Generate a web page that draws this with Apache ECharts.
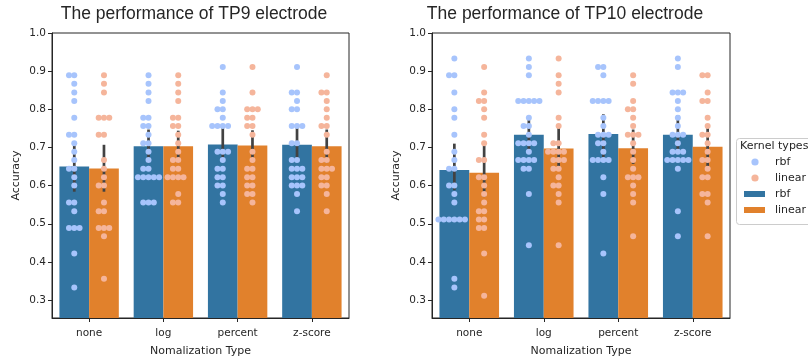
<!DOCTYPE html>
<html><head><meta charset="utf-8">
<script src="https://cdn.jsdelivr.net/npm/echarts@6/dist/echarts.min.js"></script>
<style>html,body{margin:0;padding:0;background:#fff}#c{width:808px;height:362px}</style>
</head><body><div id="c"></div>
<script>
const categories = ['none', 'log', 'percent', 'z-score'];
const yTickValues = [0.3, 0.4, 0.5, 0.6, 0.7, 0.8, 0.9, 1.0];
const titles = ['The performance of TP9 electrode', 'The performance of TP10 electrode'];

// bar heights (mean accuracy)
const tp9BarRbf = [0.650, 0.703, 0.708, 0.707];
const tp9BarLinear = [0.645, 0.703, 0.705, 0.703];
const tp10BarRbf = [0.641, 0.733, 0.735, 0.733];
const tp10BarLinear = [0.634, 0.697, 0.698, 0.702];

// error bars [low, high]
const tp9ErrRbf = [[0.584, 0.717], [0.660, 0.747], [0.665, 0.751], [0.665, 0.751]];
const tp9ErrLinear = [[0.584, 0.707], [0.660, 0.744], [0.665, 0.745], [0.660, 0.747]];
const tp10ErrRbf = [[0.588, 0.710], [0.690, 0.775], [0.674, 0.787], [0.690, 0.785]];
const tp10ErrLinear = [[0.570, 0.704], [0.645, 0.751], [0.657, 0.747], [0.648, 0.753]];

// individual accuracies (swarm points), per category
const tp9PtsRbf = [
  [0.889,0.889,0.867,0.844,0.822,0.778,0.733,0.733,0.711,0.689,0.667,0.644,0.644,0.622,0.600,0.556,0.556,0.533,0.489,0.489,0.489,0.422,0.333],
  [0.889,0.867,0.844,0.822,0.778,0.778,0.756,0.756,0.733,0.711,0.711,0.689,0.667,0.644,0.644,0.622,0.622,0.622,0.622,0.622,0.556,0.556,0.556],
  [0.911,0.844,0.822,0.800,0.800,0.778,0.756,0.756,0.756,0.756,0.689,0.689,0.689,0.667,0.644,0.644,0.622,0.622,0.600,0.600,0.578,0.556],
  [0.911,0.844,0.844,0.822,0.800,0.800,0.756,0.756,0.756,0.711,0.711,0.667,0.667,0.644,0.644,0.644,0.622,0.622,0.622,0.600,0.600,0.600,0.578,0.533]
];
const tp9PtsLinear = [
  [0.889,0.867,0.844,0.778,0.778,0.778,0.733,0.733,0.667,0.644,0.622,0.600,0.600,0.556,0.533,0.533,0.489,0.489,0.489,0.467,0.356],
  [0.889,0.867,0.844,0.822,0.778,0.778,0.756,0.756,0.733,0.711,0.689,0.667,0.667,0.644,0.644,0.622,0.622,0.622,0.622,0.578,0.556,0.556],
  [0.911,0.844,0.800,0.800,0.800,0.778,0.778,0.756,0.756,0.733,0.689,0.667,0.644,0.644,0.622,0.622,0.600,0.600,0.578,0.578,0.556],
  [0.889,0.844,0.844,0.822,0.800,0.778,0.756,0.756,0.733,0.689,0.667,0.667,0.644,0.644,0.644,0.622,0.622,0.600,0.600,0.578,0.533]
];
const tp10PtsRbf = [
  [0.933,0.889,0.889,0.844,0.800,0.778,0.733,0.689,0.667,0.644,0.644,0.600,0.600,0.578,0.556,0.511,0.511,0.511,0.511,0.511,0.511,0.356,0.333],
  [0.933,0.911,0.889,0.822,0.822,0.822,0.822,0.822,0.778,0.756,0.756,0.733,0.711,0.711,0.711,0.711,0.689,0.667,0.667,0.667,0.667,0.644,0.644,0.578,0.444],
  [0.911,0.911,0.889,0.822,0.822,0.822,0.822,0.778,0.756,0.733,0.733,0.733,0.711,0.711,0.689,0.667,0.667,0.667,0.667,0.622,0.578,0.422],
  [0.933,0.911,0.844,0.844,0.844,0.822,0.800,0.778,0.756,0.733,0.733,0.733,0.711,0.689,0.689,0.689,0.667,0.667,0.667,0.667,0.667,0.644,0.533,0.467]
];
const tp10PtsLinear = [
  [0.911,0.844,0.822,0.822,0.800,0.778,0.733,0.711,0.667,0.667,0.622,0.622,0.600,0.578,0.556,0.533,0.533,0.511,0.511,0.489,0.489,0.422,0.311],
  [0.933,0.889,0.867,0.844,0.778,0.756,0.711,0.711,0.689,0.689,0.689,0.689,0.667,0.667,0.667,0.644,0.644,0.622,0.600,0.600,0.578,0.556,0.444],
  [0.889,0.867,0.822,0.800,0.800,0.778,0.756,0.733,0.733,0.733,0.711,0.689,0.667,0.644,0.622,0.622,0.622,0.600,0.578,0.556,0.467],
  [0.889,0.889,0.844,0.822,0.822,0.778,0.756,0.733,0.733,0.711,0.689,0.667,0.667,0.644,0.622,0.622,0.578,0.578,0.556,0.467]
];

const colRbfBar = '#3274a1', colLinBar = '#e1812c';
const colRbfDot = '#a7c4fc', colLinDot = '#f5b59b';
const errColor = '#424242';
const txt = '#262626';

const grids = [
  {left: 52, top: 33, width: 297, height: 291},
  {left: 432, top: 33, width: 298, height: 291}
];
const GROUP_OFF = 0.2;

function swarm(groups, sideOff, gridW) {
  const step = 5.3 / (gridW / categories.length); // dot spacing in category units
  const out = [];
  groups.forEach((vals, ci) => {
    const counts = {};
    vals.forEach(v => {
      const n = counts[v] || 0;
      counts[v] = n + 1;
      const k = n === 0 ? 0 : (n % 2 === 1 ? -Math.ceil(n / 2) : Math.ceil(n / 2));
      out.push([ci + sideOff + k * step, v]);
    });
  });
  return out;
}

function errData(errR, errL) {
  const d = [];
  errR.forEach((e, i) => d.push([i - GROUP_OFF, e[0], e[1]]));
  errL.forEach((e, i) => d.push([i + GROUP_OFF, e[0], e[1]]));
  return d;
}

const panels = [
  {barR: tp9BarRbf, barL: tp9BarLinear, errR: tp9ErrRbf, errL: tp9ErrLinear, ptsR: tp9PtsRbf, ptsL: tp9PtsLinear},
  {barR: tp10BarRbf, barL: tp10BarLinear, errR: tp10ErrRbf, errL: tp10ErrLinear, ptsR: tp10PtsRbf, ptsL: tp10PtsLinear}
];

const xAxes = [], yAxes = [], series = [];
panels.forEach((p, gi) => {
  xAxes.push({
    type: 'category', gridIndex: gi, data: categories,
    name: 'Nomalization Type', nameLocation: 'middle', nameGap: 28,
    nameTextStyle: {fontFamily: 'DejaVu Sans', fontSize: 11, color: txt},
    axisLine: {show: true, onZero: false, lineStyle: {color: txt, width: 1}},
    axisTick: {show: true, alignWithLabel: true, length: 4, lineStyle: {color: txt}},
    axisLabel: {fontFamily: 'DejaVu Sans', fontSize: 10.5, color: txt, margin: 10},
    splitLine: {show: false}
  });
  xAxes.push({
    type: 'value', gridIndex: gi, min: -0.5, max: 3.5, show: false
  });
  yAxes.push({
    type: 'value', gridIndex: gi, min: 0.253, max: 1.0,
    name: 'Accuracy', nameLocation: 'middle', nameGap: 30,
    nameTextStyle: {fontFamily: 'DejaVu Sans', fontSize: 11, color: txt},
    axisLine: {show: true, onZero: false, lineStyle: {color: txt, width: 1}},
    axisTick: {show: true, length: 4, lineStyle: {color: txt}, customValues: yTickValues},
    axisLabel: {fontFamily: 'DejaVu Sans', fontSize: 10.5, color: txt, margin: 6,
      customValues: yTickValues, formatter: v => v.toFixed(1)},
    splitLine: {show: false}
  });
  const xc = gi * 2, xv = gi * 2 + 1;
  series.push({
    type: 'bar', xAxisIndex: xc, yAxisIndex: gi, data: p.barR,
    barWidth: '40%', barGap: '0%', itemStyle: {color: colRbfBar}, z: 2, silent: true
  });
  series.push({
    type: 'bar', xAxisIndex: xc, yAxisIndex: gi, data: p.barL,
    barWidth: '40%', barGap: '0%', itemStyle: {color: colLinBar}, z: 2, silent: true
  });
  series.push({
    type: 'custom', xAxisIndex: xv, yAxisIndex: gi, data: errData(p.errR, p.errL), z: 3,
    renderItem: (params, api) => {
      const a = api.coord([api.value(0), api.value(1)]);
      const b = api.coord([api.value(0), api.value(2)]);
      return {type: 'line', shape: {x1: a[0], y1: a[1], x2: b[0], y2: b[1]},
        style: {stroke: errColor, lineWidth: 2.7}};
    }
  });
  series.push({
    type: 'scatter', xAxisIndex: xv, yAxisIndex: gi, data: swarm(p.ptsR, -GROUP_OFF, grids[gi].width),
    symbolSize: 6, itemStyle: {color: colRbfDot, opacity: 1}, z: 4, silent: true
  });
  series.push({
    type: 'scatter', xAxisIndex: xv, yAxisIndex: gi, data: swarm(p.ptsL, GROUP_OFF, grids[gi].width),
    symbolSize: 6, itemStyle: {color: colLinDot, opacity: 1}, z: 4, silent: true
  });
});

const legendItems = [
  {label: 'rbf', kind: 'dot', color: colRbfDot},
  {label: 'linear', kind: 'dot', color: colLinDot},
  {label: 'rbf', kind: 'bar', color: colRbfBar},
  {label: 'linear', kind: 'bar', color: colLinBar}
];
const graphic = [
  {type: 'text', x: 194, y: 14, style: {text: titles[0], align: 'center', verticalAlign: 'middle',
    font: '17.5px "Liberation Sans", Arial, sans-serif', fill: txt}},
  {type: 'text', x: 565, y: 14, style: {text: titles[1], align: 'center', verticalAlign: 'middle',
    font: '17.5px "Liberation Sans", Arial, sans-serif', fill: txt}},
  {type: 'rect', shape: {x: 736.5, y: 138.5, width: 80, height: 86, r: 3},
    style: {fill: '#fff', stroke: '#cccccc', lineWidth: 1}},
  {type: 'text', x: 740, y: 146, style: {text: 'Kernel types', verticalAlign: 'middle',
    font: '11px "DejaVu Sans", sans-serif', fill: txt}}
];
legendItems.forEach((it, i) => {
  const y = 162 + i * 16;
  if (it.kind === 'dot') {
    graphic.push({type: 'circle', shape: {cx: 755, cy: y, r: 3.6}, style: {fill: it.color}});
  } else {
    graphic.push({type: 'rect', shape: {x: 744, y: y - 3, width: 21, height: 6}, style: {fill: it.color}});
  }
  graphic.push({type: 'text', x: 775, y: y, style: {text: it.label, verticalAlign: 'middle',
    font: '11px "DejaVu Sans", sans-serif', fill: txt}});
});

const chart = echarts.init(document.getElementById('c'), null, {renderer: 'canvas'});
chart.setOption({
  animation: false,
  backgroundColor: '#fff',
  grid: grids.map(g => Object.assign({show: true, borderColor: txt, borderWidth: 1, backgroundColor: 'transparent'}, g)),
  xAxis: xAxes,
  yAxis: yAxes,
  series: series,
  graphic: graphic
});
</script>
</body></html>
